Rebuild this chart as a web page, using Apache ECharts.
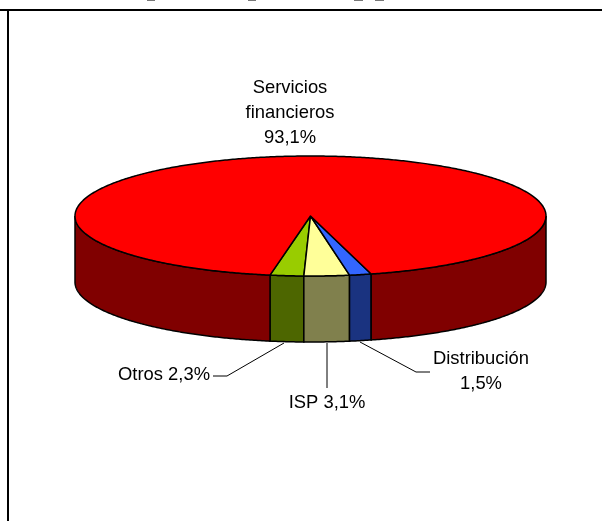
<!DOCTYPE html>
<html>
<head>
<meta charset="utf-8">
<style>html,body{margin:0;padding:0;background:#fff}#c{width:602px;height:521px}</style>
<script src="https://cdn.jsdelivr.net/npm/echarts@6/dist/echarts.min.js"></script>
</head>
<body>
<div id="c"></div>
<script>
// Chart data
const categories = ['Otros', 'ISP', 'Distribución', 'Servicios financieros'];
const shares = [2.3, 3.1, 1.5, 93.1];
const labelLines = [['Otros 2,3%'], ['ISP 3,1%'], ['Distribución', '1,5%'], ['Servicios', 'financieros', '93,1%']];

// Appearance
const topColors = ['#99CC00', '#FFFF99', '#3366FF', '#FF0000'];
const wallColors = ['#4D6600', '#80804D', '#1A3380', '#800000'];
const labelCenters = [[164, 375], [327, 403], [481, 359], [290, 88]];
const leaderPaths = [
  [[284, 343], [227, 376], [213, 376]],
  [[327, 343], [327, 388]],
  [[360, 342], [416, 372], [430, 372]],
  null
];
const pie = { cx: 310.5, cy: 216, rx: 235.5, ry: 60, depth: 66, firstEdge: -9.9 };
const lineGap = 25;

const rad = d => d * Math.PI / 180;
const rimPoint = (deg, drop) => [pie.cx + pie.rx * Math.sin(rad(deg)), pie.cy + pie.ry * Math.cos(rad(deg)) + drop];
function arc(from, to, drop) {
  const pts = [];
  const n = Math.max(2, Math.ceil((to - from) / 0.5));
  for (let k = 0; k <= n; k++) pts.push(rimPoint(from + (to - from) * k / n, drop));
  return pts;
}
const edges = [];
shares.reduce((acc, v) => { edges.push(acc); return acc + v * 3.6; }, pie.firstEdge);

function wall(from, to, color) {
  return {
    type: 'polygon',
    shape: { points: arc(from, to, 0).concat(arc(from, to, pie.depth).reverse()) },
    style: { fill: color, stroke: '#000', lineWidth: 1.5 }
  };
}

function renderItem(params, api) {
  const i = params.dataIndex;
  const from = edges[i];
  const to = from + api.value(0) * 3.6;
  const children = [];
  // front-facing part of the rim: parameter angle within -90..90 (mod 360)
  [[-90, 90], [270, 450]].forEach(([a, b]) => {
    const s = Math.max(from, a), e = Math.min(to, b);
    if (e > s) children.push(wall(s, e, wallColors[i]));
  });
  children.push({
    type: 'polygon',
    shape: { points: [[pie.cx, pie.cy]].concat(arc(from, to, 0)) },
    style: { fill: topColors[i], stroke: '#000', lineWidth: 1.5, lineJoin: 'round' }
  });
  if (leaderPaths[i]) {
    children.push({
      type: 'polyline',
      shape: { points: leaderPaths[i] },
      style: { fill: null, stroke: '#000', lineWidth: 1 }
    });
  }
  labelLines[i].forEach((t, k) => {
    children.push({
      type: 'text',
      style: {
        text: t, x: labelCenters[i][0], y: labelCenters[i][1] + k * lineGap,
        align: 'center', verticalAlign: 'middle',
        font: '18.4px "Liberation Sans", Arial, sans-serif', fill: '#000'
      }
    });
  });
  return { type: 'group', children };
}

const chart = echarts.init(document.getElementById('c'), null, { renderer: 'canvas' });
chart.setOption({
  animation: false,
  backgroundColor: '#fff',
  graphic: [
    { type: 'rect', shape: { x: 0, y: 9, width: 602, height: 2 }, style: { fill: '#000' } },
    { type: 'rect', shape: { x: 7, y: 11, width: 2, height: 510 }, style: { fill: '#000' } },
    { type: 'rect', shape: { x: 147, y: 0, width: 8, height: 1 }, style: { fill: '#777' } },
    { type: 'rect', shape: { x: 248, y: 0, width: 8, height: 1 }, style: { fill: '#777' } },
    { type: 'rect', shape: { x: 354, y: 0, width: 9, height: 1 }, style: { fill: '#777' } },
    { type: 'rect', shape: { x: 375, y: 0, width: 9, height: 1 }, style: { fill: '#777' } }
  ],
  series: [{
    type: 'custom',
    coordinateSystem: 'none',
    silent: true,
    renderItem,
    data: categories.map((c, i) => ({ name: c, value: [shares[i]] }))
  }]
});
</script>
</body>
</html>
